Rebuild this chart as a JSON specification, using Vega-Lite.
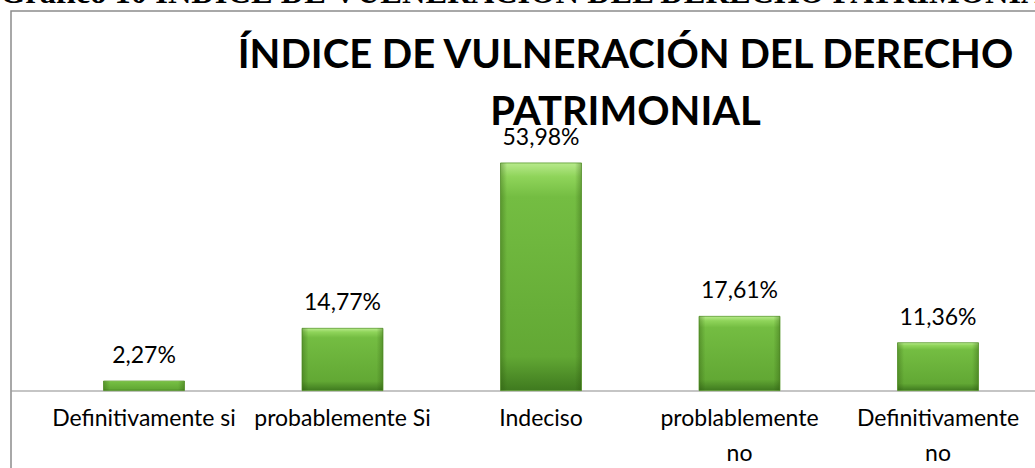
{
  "$schema": "https://vega.github.io/schema/vega-lite/v6.json",
  "autosize": {"type": "none"},
  "padding": {"left": 11, "top": 11, "right": 0, "bottom": 0},
  "width": 1060,
  "height": 480,
  "background": "white",
  "config": {
    "locale": {"number": {"decimal": ",", "thousands": ".", "grouping": [3], "currency": ["", " €"]}},
    "view": {"stroke": "#8c8c8c", "strokeWidth": 1.5}
  },
  "title": {
    "text": "Gráfico 10 ÍNDICE DE VULNERACIÓN DEL DERECHO PATRIMONIAL",
    "anchor": "start",
    "frame": "group",
    "dx": -11,
    "dy": 24,
    "offset": 0,
    "baseline": "alphabetic",
    "font": "Liberation Serif",
    "fontSize": 32.5,
    "fontWeight": "bold",
    "color": "black"
  },
  "data": {
    "values": [
      {"categoria": "Definitivamente si", "valor": 0.0227},
      {"categoria": "probablemente Si", "valor": 0.1477},
      {"categoria": "Indeciso", "valor": 0.5398},
      {"categoria": "problablemente no", "valor": 0.1761},
      {"categoria": "Definitivamente no", "valor": 0.1136}
    ]
  },
  "encoding": {
    "x": {
      "field": "categoria",
      "type": "nominal",
      "sort": null,
      "scale": {"paddingInner": 0.592, "paddingOuter": 0.466},
      "axis": {
        "orient": "bottom",
        "offset": -100.5,
        "title": null,
        "domain": true,
        "domainColor": "#8c8c8c",
        "domainWidth": 1.2,
        "ticks": false,
        "tickSize": 0,
        "labelAngle": 0,
        "labelFont": "Lato",
        "labelFontSize": 23,
        "labelColor": "black",
        "labelPadding": 17,
        "labelBaseline": "top",
        "labelLineHeight": 35,
        "labelOverlap": false,
        "labelLimit": 0,
        "labelExpr": "datum.label == 'problablemente no' ? ['problablemente', 'no'] : datum.label == 'Definitivamente no' ? ['Definitivamente', 'no'] : datum.label"
      }
    },
    "y": {
      "field": "valor",
      "type": "quantitative",
      "scale": {"domain": [-0.238, 0.9], "nice": false, "zero": false},
      "axis": {
        "orient": "left",
        "grid": false,
        "labels": false,
        "ticks": false,
        "domain": false,
        "title": ["ÍNDICE DE VULNERACIÓN DEL DERECHO", "PATRIMONIAL"],
        "titleAngle": 0,
        "titleAlign": "center",
        "titleBaseline": "alphabetic",
        "titleX": 614,
        "titleY": 56,
        "titleFont": "Lato",
        "titleFontSize": 40,
        "titleFontWeight": "bold",
        "titleColor": "black",
        "titleLineHeight": 57
      }
    }
  },
  "layer": [
    {
      "mark": {
        "type": "bar",
        "stroke": "#5a9a2e",
        "strokeWidth": 0.8,
        "color": {
          "gradient": "linear",
          "x1": 0, "y1": 0, "x2": 0, "y2": 1,
          "stops": [
            {"offset": 0, "color": "#b8ea8c"},
            {"offset": 0.06, "color": "#8fd45a"},
            {"offset": 0.15, "color": "#74bd42"},
            {"offset": 0.85, "color": "#62a834"},
            {"offset": 1, "color": "#3f7a1f"}
          ]
        }
      },
      "encoding": {"y2": {"datum": 0}}
    },
    {
      "mark": {
        "type": "bar",
        "color": {
          "gradient": "linear",
          "x1": 0, "y1": 0, "x2": 1, "y2": 0,
          "stops": [
            {"offset": 0, "color": "rgba(40,80,10,0.35)"},
            {"offset": 0.08, "color": "rgba(40,80,10,0)"},
            {"offset": 0.92, "color": "rgba(40,80,10,0)"},
            {"offset": 1, "color": "rgba(40,80,10,0.35)"}
          ]
        }
      },
      "encoding": {"y2": {"datum": 0}}
    },
    {
      "mark": {
        "type": "text",
        "font": "Lato",
        "fontSize": 23,
        "color": "black",
        "baseline": "alphabetic",
        "dy": -18
      },
      "encoding": {"text": {"field": "valor", "type": "quantitative", "format": ".2%"}}
    }
  ]
}
